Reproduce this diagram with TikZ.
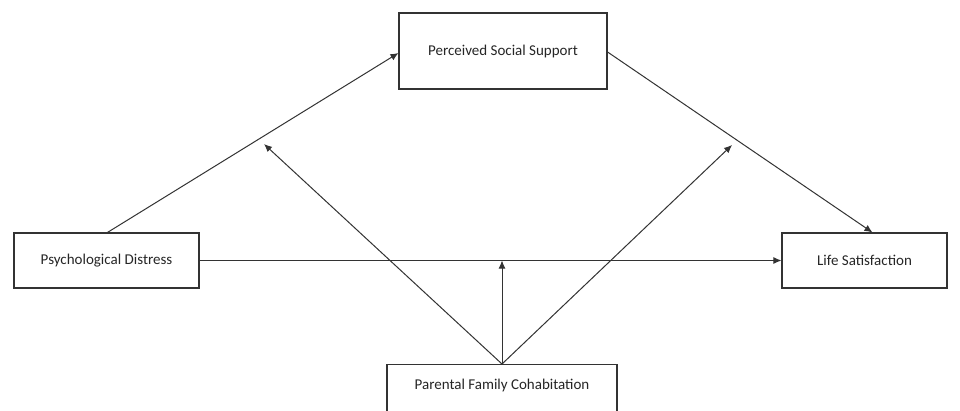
\documentclass[tikz,border=0pt]{standalone}
\usepackage{fontspec}
\setmainfont{Carlito}
\usetikzlibrary{arrows.meta,calc}
\begin{document}
\begin{tikzpicture}[x=1pt,y=-1pt,
  box/.style={draw=black!80,line width=1.1pt,rectangle,inner sep=0pt,
    font=\fontsize{15}{18}\selectfont,text=black!85},
  arr/.style={draw=black!80,line width=1pt,-{Latex[length=8pt,width=7pt]}},
  ln/.style={draw=black!80,line width=1pt}]
\clip (0,0) rectangle (960,410);
\fill[white] (0,0) rectangle (960,410);
\node[box,minimum width=208,minimum height=76] (pss) at (503,51) {Perceived Social Support};
\node[box,minimum width=185,minimum height=55] (pd) at (106.5,260.5) {Psychological Distress};
\node[box,minimum width=165,minimum height=55] (ls) at (864.5,260.5) {Life Satisfaction};
\node[box,anchor=north,minimum width=230,text height=25pt,text depth=40pt] (pfc) at (502,364) {Parental Family Cohabitation};
\coordinate (m1) at (264,144);
\coordinate (m2) at (732,145);
\draw[arr] ([xshift=94]pd.north west) -- ([yshift=-2]pss.west);
\draw[arr] ([yshift=-1]pss.east) -- ([xshift=91]ls.north west);
\draw[arr] (pd.east) -- (ls.west);
\draw[arr] (pfc.north) -- (pfc.north |- pd.east);
\draw[arr] (pfc.north) -- (m1);
\draw[arr] (pfc.north) -- (m2);
\end{tikzpicture}
\end{document}
